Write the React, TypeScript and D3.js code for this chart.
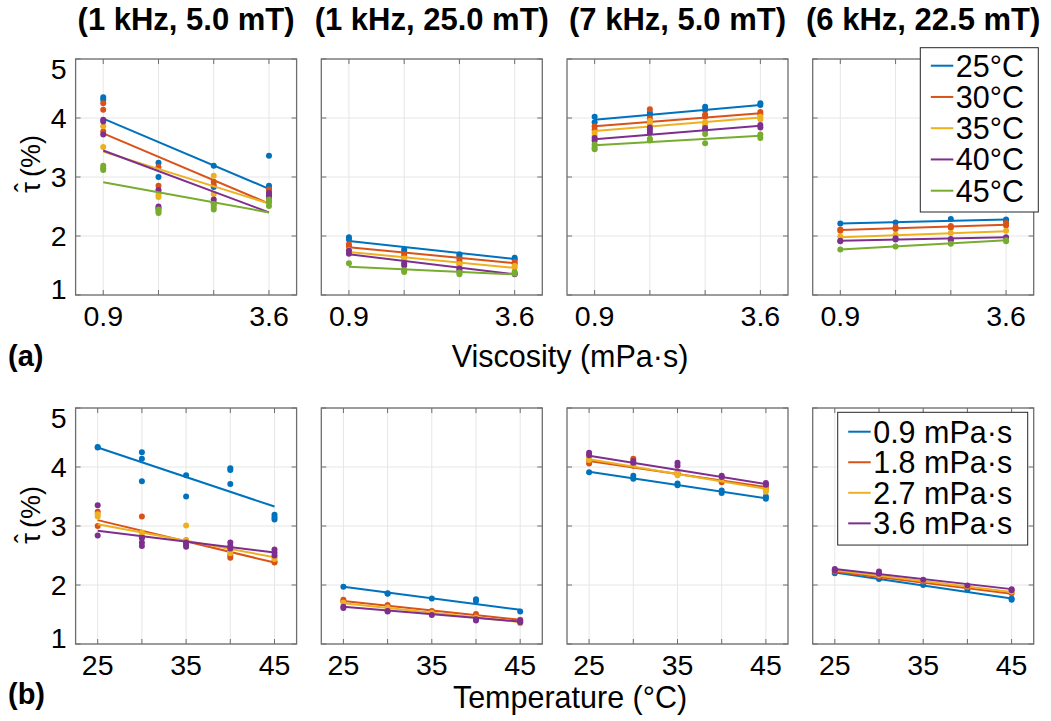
import React from 'react';
import * as d3 from 'd3';

const COLORS = ['#0072BD', '#D95319', '#EDB120', '#7E2F8E', '#77AC30'];
const FONT = '"Liberation Sans", Arial, Helvetica, sans-serif';

const viscosities = [0.9, 1.8, 2.7, 3.6];
const temperatures = [25, 30, 35, 40, 45];
const tempLabels = ['25°C', '30°C', '35°C', '40°C', '45°C'];
const viscLabels = ['0.9 mPa·s', '1.8 mPa·s', '2.7 mPa·s', '3.6 mPa·s'];
const titles = ['(1 kHz, 5.0 mT)', '(1 kHz, 25.0 mT)', '(7 kHz, 5.0 mT)', '(6 kHz, 22.5 mT)'];
const yTicks = [1, 2, 3, 4, 5];
const viscTickLabels = ['0.9', '', '', '3.6'];
const tempTickLabels = ['25', '', '35', '', '45'];

// ---- Row (a): tau-hat vs viscosity; series = temperature; [series][viscosity] -> repeats
const measA1 = [
  [[4.35, 4.31], [3.24, 3.0], [3.19, 2.83], [3.36, 2.85, 2.8]],
  [[4.25, 4.14, 3.77], [3.17, 2.85], [2.92, 2.86], [2.79, 2.75]],
  [[3.86, 3.51], [2.76, 2.7, 2.66], [3.02, 2.71], [2.62, 2.58]],
  [[3.97, 3.94, 3.72], [2.78, 2.5, 2.47], [2.62, 2.56], [2.73, 2.69, 2.66]],
  [[3.19, 3.15, 3.12], [2.45, 2.42, 2.39], [2.54, 2.49, 2.45], [2.62, 2.57, 2.51]],
];
const fitA1 = [[3.99, 2.8], [3.74, 2.55], [3.43, 2.55], [3.45, 2.4], [2.91, 2.4]];

const measA2 = [
  [[1.98, 1.94], [1.77, 1.73], [1.69, 1.66], [1.63, 1.6]],
  [[1.86, 1.82], [1.68, 1.65], [1.6, 1.56], [1.56, 1.53]],
  [[1.76, 1.73], [1.62, 1.6], [1.52, 1.5], [1.49, 1.46]],
  [[1.75, 1.7], [1.54, 1.5], [1.45, 1.42], [1.37, 1.35]],
  [[1.54], [1.42, 1.39], [1.38, 1.35], [1.39, 1.36]],
];
const fitA2 = [[1.915, 1.61], [1.81, 1.54], [1.73, 1.46], [1.69, 1.35], [1.48, 1.35]];

const measA3 = [
  [[4.02, 3.93], [4.09, 4.05], [4.19, 4.14], [4.25, 4.22]],
  [[3.86, 3.8], [4.15, 3.99], [4.06, 4.02], [4.1, 4.06]],
  [[3.75, 3.7], [3.95, 3.9], [3.93, 3.88], [4.02, 3.98]],
  [[3.66, 3.62], [3.84, 3.8, 3.75], [3.83, 3.8], [3.88, 3.84]],
  [[3.55, 3.5, 3.47], [3.65, 3.62], [3.73, 3.57], [3.72, 3.66]],
];
const fitA3 = [[3.97, 4.22], [3.86, 4.08], [3.78, 4.01], [3.64, 3.87], [3.54, 3.7]];

const measA4 = [
  [[2.21], [2.23], [2.29], [2.28, 2.26]],
  [[2.11, 2.09], [2.15, 2.12], [2.17, 2.14], [2.22, 2.18]],
  [[1.99], [2.02], [2.05], [2.09]],
  [[1.92, 1.91], [1.96, 1.94], [1.95, 1.93], [1.98]],
  [[1.77], [1.82], [1.87], [1.93, 1.91]],
];
const fitA4 = [[2.21, 2.28], [2.1, 2.19], [1.98, 2.08], [1.92, 1.98], [1.77, 1.93]];

// ---- Row (b): tau-hat vs temperature; series = viscosity; [series][temperature] -> repeats
const measB1 = [
  [[4.34, 4.33], [4.25, 4.14, 3.76], [3.86, 3.5], [3.98, 3.95, 3.71], [3.19, 3.15, 3.11]],
  [[3.24, 3.0], [3.16, 2.8], [2.76, 2.72], [2.5, 2.46], [2.4, 2.38]],
  [[3.2, 3.16], [2.89, 2.84], [3.01, 2.76], [2.58, 2.54], [2.46, 2.44]],
  [[3.35, 2.84], [2.8, 2.72, 2.66], [2.72, 2.68, 2.65], [2.72, 2.66, 2.62], [2.6, 2.55, 2.5]],
];
const fitB1 = [[4.33, 3.33], [3.1, 2.38], [3.03, 2.47], [2.92, 2.55]];

const measB2 = [
  [[1.97], [1.86, 1.85], [1.77], [1.76, 1.73], [1.55]],
  [[1.75, 1.72], [1.66], [1.56], [1.51], [1.41, 1.39]],
  [[1.7], [1.62], [1.53], [1.45], [1.35]],
  [[1.63, 1.61], [1.56, 1.55], [1.49], [1.42, 1.4], [1.4, 1.37]],
];
const fitB2 = [[1.97, 1.58], [1.73, 1.41], [1.69, 1.37], [1.63, 1.38]];

const measB3 = [
  [[3.91], [3.85, 3.8], [3.72, 3.69], [3.6, 3.56], [3.5, 3.46]],
  [[4.12, 4.06], [4.14, 4.02], [3.9, 3.88], [3.78, 3.74], [3.66, 3.62]],
  [[4.15, 4.12], [4.05], [3.92, 3.86], [3.8], [3.62, 3.58]],
  [[4.24, 4.2], [4.1, 4.07], [4.07, 4.02], [3.85, 3.83], [3.73, 3.7]],
];
const fitB3 = [[3.92, 3.47], [4.1, 3.66], [4.13, 3.63], [4.19, 3.71]];

const measB4 = [
  [[2.2], [2.1], [2.0], [1.92], [1.77, 1.75]],
  [[2.23], [2.15], [2.06], [1.96], [1.86]],
  [[2.26], [2.17], [2.08], [1.98], [1.89]],
  [[2.27, 2.25], [2.23, 2.19], [2.09], [1.99], [1.93, 1.91]],
];
const fitB4 = [[2.21, 1.77], [2.23, 1.85], [2.25, 1.88], [2.27, 1.93]];

const rowA = [
  { meas: measA1, fit: fitA1 },
  { meas: measA2, fit: fitA2 },
  { meas: measA3, fit: fitA3 },
  { meas: measA4, fit: fitA4 },
];
const rowB = [
  { meas: measB1, fit: fitB1 },
  { meas: measB2, fit: fitB2 },
  { meas: measB3, fit: fitB3 },
  { meas: measB4, fit: fitB4 },
];

// ---- layout
const W = 1051;
const H = 721;
const PANEL_LEFT0 = 75.6;
const PANEL_STEP = 245.7;
const PANEL_W = 221;
const ROW_A = { top: 59, bottom: 295 };
const ROW_B = { top: 408, bottom: 644 };
const TICK_FS = 28.5;
const AXIS_COLOR = '#6e6e6e';
const GRID_COLOR = '#e6e6e6';

type PanelProps = {
  left: number;
  top: number;
  bottom: number;
  xs: number[];
  xDomain: [number, number];
  xTickLabels: string[];
  meas: number[][][];
  fit: number[][];
  showY: boolean;
};

function Panel({ left, top, bottom, xs, xDomain, xTickLabels, meas, fit, showY }: PanelProps) {
  const x = d3.scaleLinear().domain(xDomain).range([left, left + PANEL_W]);
  const y = d3.scaleLinear().domain([1, 5]).range([bottom, top]);
  const line = d3
    .line<number[]>()
    .x((d) => x(d[0]))
    .y((d) => y(d[1]));
  const right = left + PANEL_W;
  const tl = 5;
  return (
    <g>
      {xs.map((v, i) => (
        <line key={'gx' + i} x1={x(v)} x2={x(v)} y1={top} y2={bottom} stroke={GRID_COLOR} strokeWidth={1} />
      ))}
      {yTicks.map((v, i) => (
        <line key={'gy' + i} x1={left} x2={right} y1={y(v)} y2={y(v)} stroke={GRID_COLOR} strokeWidth={1} />
      ))}
      {meas.map((series, si) => (
        <g key={'s' + si}>
          {series.map((vals, xi) =>
            vals.map((v, k) => (
              <circle key={xi + '-' + k} cx={x(xs[xi])} cy={y(v)} r={3} fill={COLORS[si]} />
            ))
          )}
          <path
            d={line([
              [xs[0], fit[si][0]],
              [xs[xs.length - 1], fit[si][1]],
            ]) || ''}
            fill="none"
            stroke={COLORS[si]}
            strokeWidth={2}
          />
        </g>
      ))}
      <rect x={left} y={top} width={PANEL_W} height={bottom - top} fill="none" stroke={AXIS_COLOR} strokeWidth={1.3} />
      {xs.map((v, i) => (
        <g key={'tx' + i}>
          <line x1={x(v)} x2={x(v)} y1={bottom} y2={bottom - tl} stroke={AXIS_COLOR} strokeWidth={1} />
          <line x1={x(v)} x2={x(v)} y1={top} y2={top + tl} stroke={AXIS_COLOR} strokeWidth={1} />
          {xTickLabels[i] ? (
            <text x={x(v)} y={bottom + 31} textAnchor="middle" fontSize={TICK_FS} fontFamily={FONT} fill="#000">
              {xTickLabels[i]}
            </text>
          ) : null}
        </g>
      ))}
      {yTicks.map((v, i) => (
        <g key={'ty' + i}>
          <line x1={left} x2={left + tl} y1={y(v)} y2={y(v)} stroke={AXIS_COLOR} strokeWidth={1} />
          <line x1={right} x2={right - tl} y1={y(v)} y2={y(v)} stroke={AXIS_COLOR} strokeWidth={1} />
          {showY ? (
            <text
              x={left - 9}
              y={Math.min(Math.max(y(v), top + 10), bottom - 6)}
              dy="0.36em"
              textAnchor="end"
              fontSize={TICK_FS}
              fontFamily={FONT}
              fill="#000"
            >
              {v}
            </text>
          ) : null}
        </g>
      ))}
    </g>
  );
}

function YLabel({ cy }: { cy: number }) {
  return (
    <g transform={`translate(40, ${cy}) rotate(-90)`} fontFamily={FONT} fontSize={27} fill="#000">
      <text x={-18.5} y={0} textAnchor="middle">τ</text>
      <text x={-18.5} y={-6} textAnchor="middle">ˆ</text>
      <text x={-8} y={0} textAnchor="start">(%)</text>
    </g>
  );
}

function Legend({ x0, x1, rowY0, rowStep, labels, padTop, padBottom }: {
  x0: number; x1: number; rowY0: number; rowStep: number; labels: string[]; padTop: number; padBottom: number;
}) {
  const lastY = rowY0 + rowStep * (labels.length - 1);
  return (
    <g>
      <rect x={x0} y={rowY0 - padTop} width={x1 - x0} height={lastY - rowY0 + padTop + padBottom} fill="#fff" stroke="#262626" strokeWidth={1} />
      {labels.map((lab, i) => {
        const yy = rowY0 + rowStep * i;
        return (
          <g key={lab}>
            <line x1={x0 + 10.5} x2={x0 + 33} y1={yy} y2={yy} stroke={COLORS[i]} strokeWidth={2} />
            <text x={x0 + 35.5} y={yy} dy="0.36em" fontSize={30.5} fontFamily={FONT} fill="#000">{lab}</text>
          </g>
        );
      })}
    </g>
  );
}

export default function App() {
  const labelX = 570;
  return (
    <svg
      width={W}
      height={H}
      viewBox={`0 0 ${W} ${H}`}
      style={{ position: 'absolute', left: 0, top: 0, background: '#fff' }}
    >
      <rect x={0} y={0} width={W} height={H} fill="#fff" />
      {titles.map((t, i) => (
        <text
          key={t}
          x={PANEL_LEFT0 + i * PANEL_STEP + PANEL_W / 2}
          y={30}
          textAnchor="middle"
          fontSize={31}
          fontWeight="bold"
          fontFamily={FONT}
          fill="#000"
        >
          {t}
        </text>
      ))}
      {rowA.map((p, i) => (
        <Panel
          key={'a' + i}
          left={PANEL_LEFT0 + i * PANEL_STEP}
          top={ROW_A.top}
          bottom={ROW_A.bottom}
          xs={viscosities}
          xDomain={[0.45, 4.05]}
          xTickLabels={viscTickLabels}
          meas={p.meas}
          fit={p.fit}
          showY={i === 0}
        />
      ))}
      {rowB.map((p, i) => (
        <Panel
          key={'b' + i}
          left={PANEL_LEFT0 + i * PANEL_STEP}
          top={ROW_B.top}
          bottom={ROW_B.bottom}
          xs={temperatures}
          xDomain={[22.5, 47.5]}
          xTickLabels={tempTickLabels}
          meas={p.meas}
          fit={p.fit}
          showY={i === 0}
        />
      ))}
      <YLabel cy={169} />
      <YLabel cy={520} />
      <text x={labelX} y={367} textAnchor="middle" fontSize={30.5} fontFamily={FONT} fill="#000">Viscosity (mPa·s)</text>
      <text x={labelX} y={708} textAnchor="middle" fontSize={30.5} fontFamily={FONT} fill="#000">Temperature (°C)</text>
      <text x={8} y={366} fontSize={29} fontWeight="bold" fontFamily={FONT} fill="#000">(a)</text>
      <text x={8} y={704} fontSize={29} fontWeight="bold" fontFamily={FONT} fill="#000">(b)</text>
      <Legend x0={920.3} x1={1038.3} rowY0={65.7} rowStep={31.25} labels={tempLabels} padTop={18} padBottom={21.3} />
      <Legend x0={837.7} x1={1027.7} rowY0={431.7} rowStep={30.55} labels={viscLabels} padTop={19.4} padBottom={21.7} />
    </svg>
  );
}
